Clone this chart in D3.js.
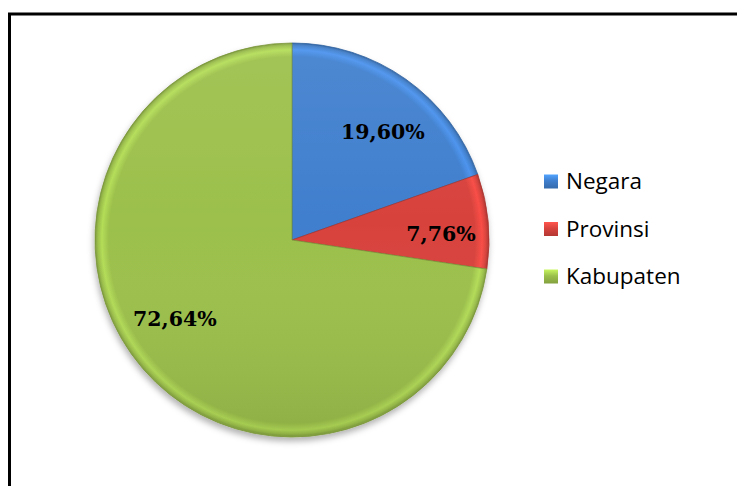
<!DOCTYPE html>
<html>
<head>
<meta charset="utf-8" />
<title>Pie - Negara Provinsi Kabupaten</title>
<style>
html, body {
    margin: 0px;
    padding: 0px;
    background: #fff;
}
svg {
    display: block;
}
</style>
</head>
<body>
<svg id="chart" width="737" height="486"></svg>

<script src="https://d3js.org/d3.v7.min.js"></script>
<script>
var categories = ["Negara", "Provinsi", "Kabupaten"]
var values = [19.60, 7.76, 72.64]
var labels = ["19,60%", "7,76%", "72,64%"]
var colors = ["#3f7fce", "#d8433d", "#9cc04b"]

var width = 737, height = 486
var cx = 292, cy = 240, radius = 197

// where the percent labels sit: fraction of radius and a small turn (degrees)
var labelRadius = [0.716, 0.757, 0.716]
var labelTurn = [4.8, 3.2, 6.9]

var svg = d3.select("#chart")
var defs = svg.append("defs")

// soft shadow under the pie
var shadow = defs.append("filter").attr("id", "shadow")
    .attr("x", "-10%").attr("y", "-10%").attr("width", "120%").attr("height", "125%")
shadow.append("feDropShadow")
    .attr("dx", -1).attr("dy", 4).attr("stdDeviation", 3)
    .attr("flood-color", "#000").attr("flood-opacity", 0.3)

// bevel-ish rim for every slice (user space = pie centre)
colors.forEach(function(c, i){
    var base = d3.color(c)
    var g = defs.append("radialGradient")
        .attr("id", "grad" + i)
        .attr("gradientUnits", "userSpaceOnUse")
        .attr("cx", 0).attr("cy", 0).attr("r", radius)
    g.append("stop").attr("offset", "0%").attr("stop-color", base)
    g.append("stop").attr("offset", "93%").attr("stop-color", base)
    g.append("stop").attr("offset", "96.5%").attr("stop-color", base.brighter(0.4))
    g.append("stop").attr("offset", "98.5%").attr("stop-color", base)
    g.append("stop").attr("offset", "100%").attr("stop-color", base.darker(0.6))

    var lg = defs.append("linearGradient")
        .attr("id", "leg" + i)
        .attr("x1", 0).attr("y1", 0).attr("x2", 0).attr("y2", 1)
    lg.append("stop").attr("offset", "0%").attr("stop-color", base.brighter(0.7))
    lg.append("stop").attr("offset", "45%").attr("stop-color", base)
    lg.append("stop").attr("offset", "100%").attr("stop-color", base.darker(0.5))
})

// light from the top: slight shading over the whole pie
var light = defs.append("linearGradient")
    .attr("id", "light")
    .attr("x1", 0).attr("y1", 0).attr("x2", 0).attr("y2", 1)
light.append("stop").attr("offset", "0%").attr("stop-color", "#fff").attr("stop-opacity", 0.07)
light.append("stop").attr("offset", "45%").attr("stop-color", "#fff").attr("stop-opacity", 0)
light.append("stop").attr("offset", "100%").attr("stop-color", "#000").attr("stop-opacity", 0.09)

// outer frame (right and bottom edges lie outside the picture)
svg.append("rect")
    .attr("x", 9.5).attr("y", 14)
    .attr("width", width + 20).attr("height", height + 20)
    .attr("fill", "none")
    .attr("stroke", "#000")
    .attr("stroke-width", 3)

var pie = d3.pie().sort(null).value(function(d){ return d })
var arcs = pie(values)

var arc = d3.arc().innerRadius(0).outerRadius(radius)
var wholeArc = d3.arc().innerRadius(0).outerRadius(radius - 1)

var g = svg.append("g")
    .attr("transform", "translate(" + [cx, cy] + ")")

g.append("g")
    .attr("filter", "url(#shadow)")
    .selectAll("path")
    .data(arcs)
    .enter().append("path")
    .attr("d", arc)
    .attr("fill", function(d, i){ return "url(#grad" + i + ")" })
    .attr("stroke", function(d, i){ return d3.color(colors[i]).darker(0.7) })
    .attr("stroke-width", 0.8)
    .attr("stroke-linejoin", "round")

g.append("path")
    .attr("d", wholeArc({startAngle: 0, endAngle: 2 * Math.PI}))
    .attr("fill", "url(#light)")
    .attr("pointer-events", "none")

function labelXY(d, i){
    var a = (d.startAngle + d.endAngle) / 2 + labelTurn[i] * Math.PI / 180
    var r = radius * labelRadius[i]
    return [r * Math.sin(a), -r * Math.cos(a)]
}

g.selectAll("text.lbl")
    .data(arcs)
    .enter().append("text")
    .attr("class", "lbl")
    .attr("transform", function(d, i){ return "translate(" + labelXY(d, i) + ")" })
    .attr("text-anchor", "middle")
    .attr("dy", "0.36em")
    .attr("font-family", "'DejaVu Serif', serif")
    .attr("font-weight", "bold")
    .attr("font-size", 20.5)
    .attr("fill", "#000")
    .text(function(d, i){ return labels[i] })

// legend
var legend = svg.append("g")
    .attr("transform", "translate(544,181)")

var rows = legend.selectAll("g")
    .data(categories)
    .enter().append("g")
    .attr("transform", function(d, i){ return "translate(0," + (i * 47.5) + ")" })

rows.append("rect")
    .attr("x", 0).attr("y", -6.5)
    .attr("width", 14).attr("height", 14)
    .attr("fill", function(d, i){ return "url(#leg" + i + ")" })

rows.append("text")
    .attr("x", 22)
    .attr("dy", "0.36em")
    .attr("font-family", "'Open Sans', sans-serif")
    .attr("font-size", 22.5)
    .attr("fill", "#000")
    .text(function(d){ return d })
</script>
</body>
</html>
